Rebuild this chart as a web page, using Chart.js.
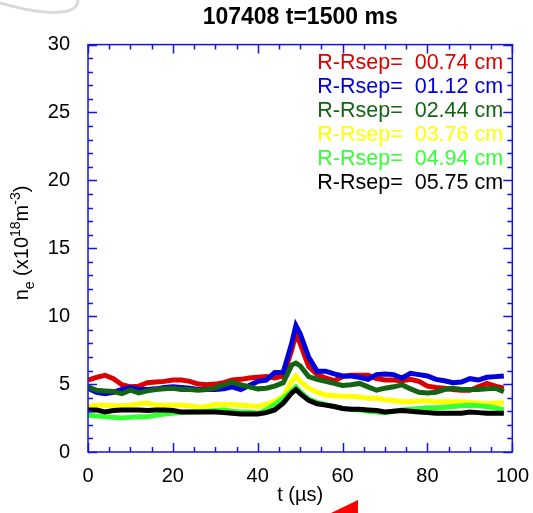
<!DOCTYPE html>
<html>
<head>
<meta charset="utf-8">
<script src="https://cdn.jsdelivr.net/npm/chart.js@4.4.0/dist/chart.umd.min.js"></script>
<style>
  html, body { margin: 0; padding: 0; background: #fff; }
  #wrap { width: 533px; height: 513px; }
</style>
</head>
<body>
<div id="wrap"><canvas id="densityChart" width="533" height="513"></canvas></div>
<script>
// time base in microseconds (finer around the burst at ~49 us)
const times = [0, 2, 4, 6, 8, 10, 12, 14, 16, 18, 20, 22, 24, 26, 28, 30, 32, 34, 36, 38, 40, 42, 44, 46,
  48, 49, 50, 52, 54, 56, 58, 60, 62, 64, 66, 68, 70, 72, 74, 76, 78, 80, 82, 84, 86, 88, 90, 92, 94, 96, 98];

// probe distance from separatrix, cm
const rsep = ['00.74', '01.12', '02.44', '03.76', '04.94', '05.75'];
const colors = ['#dd0000', '#0000dd', '#146414', '#ffff00', '#33ff33', '#000000'];

// n_e in units of 1e18 m^-3
const ne074 = [5.3, 5.5, 5.65, 5.4, 4.95, 4.8, 4.85, 5.1, 5.15, 5.2, 5.3, 5.3, 5.2, 5.0, 4.95, 5.0, 5.1, 5.3, 5.35, 5.45, 5.5, 5.55, 5.45, 5.6,
  7.5, 8.7, 8.0, 6.3, 5.7, 5.45, 5.25, 5.55, 5.65, 5.65, 5.65, 5.4, 5.3, 5.3, 5.25, 5.35, 5.2, 4.85, 4.75, 4.7, 4.6, 4.55, 4.55, 4.8, 5.05, 4.85, 4.7];
const ne112 = [4.7, 4.4, 4.3, 4.4, 4.6, 4.75, 4.6, 4.6, 4.65, 4.75, 4.8, 4.75, 4.7, 4.6, 4.6, 4.6, 4.65, 4.8, 4.6, 4.9, 5.2, 5.3, 5.85, 5.85,
  8.0, 9.3, 8.7, 7.0, 5.95, 5.95, 5.75, 5.6, 5.6, 5.5, 5.35, 5.7, 5.75, 5.7, 5.45, 5.8, 5.7, 5.6, 5.35, 5.25, 5.1, 5.15, 5.4, 5.3, 5.5, 5.55, 5.6];
const ne244 = [4.8, 4.55, 4.5, 4.45, 4.3, 4.55, 4.35, 4.5, 4.6, 4.65, 4.7, 4.6, 4.6, 4.55, 4.6, 4.7, 4.95, 5.15, 4.95, 4.8, 4.65, 4.7, 4.85, 5.1,
  6.4, 6.55, 6.35, 5.55, 5.35, 5.2, 5.05, 4.9, 4.95, 5.05, 4.8, 4.55, 4.7, 4.8, 4.95, 4.65, 4.4, 4.35, 4.4, 4.6, 4.7, 4.6, 4.6, 4.6, 4.65, 4.7, 4.45];
const ne376 = [3.35, 3.45, 3.45, 3.4, 3.4, 3.45, 3.55, 3.6, 3.45, 3.45, 3.45, 3.45, 3.4, 3.3, 3.35, 3.5, 3.5, 3.5, 3.45, 3.4, 3.35, 3.5, 3.75, 4.1,
  5.2, 5.6, 5.2, 4.7, 4.4, 4.2, 4.15, 4.1, 4.1, 4.05, 3.95, 3.95, 3.85, 3.8, 3.7, 3.7, 3.75, 3.75, 3.7, 3.7, 3.7, 3.7, 3.65, 3.6, 3.55, 3.6, 3.6];
const ne494 = [2.7, 2.65, 2.6, 2.55, 2.5, 2.55, 2.6, 2.6, 2.7, 2.8, 2.85, 2.9, 2.95, 2.95, 3.0, 3.05, 3.1, 3.0, 2.95, 2.95, 2.85, 3.1, 3.5, 3.95,
  4.5, 4.8, 4.45, 3.9, 3.65, 3.5, 3.35, 3.2, 3.15, 3.1, 3.0, 2.95, 2.9, 3.0, 3.1, 3.15, 3.2, 3.25, 3.25, 3.3, 3.35, 3.4, 3.45, 3.4, 3.35, 3.25, 3.1];
const ne575 = [3.1, 3.1, 2.95, 3.05, 3.1, 3.1, 3.1, 3.05, 3.1, 3.1, 3.05, 2.95, 2.95, 2.95, 2.95, 2.95, 2.9, 2.85, 2.8, 2.8, 2.8, 2.9, 3.1, 3.6,
  4.35, 4.6, 4.3, 3.8, 3.55, 3.45, 3.35, 3.2, 3.15, 3.15, 3.1, 3.05, 2.95, 3.0, 3.05, 3.0, 2.95, 2.9, 2.85, 2.85, 2.85, 2.85, 2.95, 2.9, 2.85, 2.85, 2.85];

const series = [ne074, ne112, ne244, ne376, ne494, ne575];
const axisBlue = '#1414e0';
const FONT = '"Liberation Sans", Arial, Helvetica, sans-serif';

const datasets = series.map((vals, i) => ({
  label: 'R-Rsep=  ' + rsep[i] + ' cm',
  data: times.map((t, k) => ({ x: t, y: vals[k] })),
  borderColor: colors[i],
  borderWidth: 5,
  pointRadius: 0,
  tension: 0,
  fill: false,
  order: series.length - i   // later traces sit on top
}));

// blue box with inward ticks on all four sides
const frameTicks = {
  id: 'frameTicks',
  afterDraw(chart) {
    const { ctx, chartArea: a, scales: { x, y } } = chart;
    ctx.save();
    ctx.strokeStyle = axisBlue;
    ctx.lineWidth = 1.5;
    ctx.strokeRect(a.left, a.top, a.right - a.left, a.bottom - a.top);
    ctx.beginPath();
    for (let v = 0; v <= 100; v += 5) {
      const px = Math.round(x.getPixelForValue(v)) + 0.5;
      const len = v % 20 === 0 ? 9 : 5;
      ctx.moveTo(px, a.bottom); ctx.lineTo(px, a.bottom - len);
      ctx.moveTo(px, a.top); ctx.lineTo(px, a.top + len);
    }
    for (let v = 0; v <= 30; v += 1) {
      const py = Math.round(y.getPixelForValue(v)) + 0.5;
      const len = v % 5 === 0 ? 9 : 5;
      ctx.moveTo(a.left, py); ctx.lineTo(a.left + len, py);
      ctx.moveTo(a.right, py); ctx.lineTo(a.right - len, py);
    }
    ctx.stroke();
    ctx.restore();
  }
};

// coloured text legend in the upper right of the plot
const textLegend = {
  id: 'textLegend',
  afterDraw(chart) {
    const { ctx, chartArea: a } = chart;
    ctx.save();
    ctx.font = '21.5px ' + FONT;
    ctx.textAlign = 'left';
    ctx.textBaseline = 'middle';
    chart.data.datasets.forEach((ds, i) => {
      ctx.fillStyle = ds.borderColor;
      ctx.fillText(ds.label, a.right - 195, a.top + 18 + i * 24);
    });
    ctx.restore();
  }
};

// y title with subscript / superscripts
const yTitle = {
  id: 'yTitle',
  afterDraw(chart) {
    const { ctx } = chart;
    const parts = [['n', 0, 20], ['e', 6, 14], [' (x10', 0, 20], ['18', -8, 14], ['m', 0, 20], ['-3', -8, 14], [')', 0, 20]];
    ctx.save();
    ctx.fillStyle = '#000';
    ctx.textBaseline = 'alphabetic';
    ctx.textAlign = 'left';
    let w = 0;
    parts.forEach(p => { ctx.font = p[2] + 'px ' + FONT; w += ctx.measureText(p[0]).width; });
    ctx.translate(28, 243);
    ctx.rotate(-Math.PI / 2);
    let cx = -w / 2;
    parts.forEach(p => {
      ctx.font = p[2] + 'px ' + FONT;
      ctx.fillText(p[0], cx, p[1]);
      cx += ctx.measureText(p[0]).width;
    });
    ctx.restore();
  }
};

// stray marks at the page edges
const edgeMarks = {
  id: 'edgeMarks',
  afterDraw(chart) {
    const { ctx } = chart;
    ctx.save();
    ctx.fillStyle = '#ff0000';
    ctx.beginPath();
    ctx.moveTo(331, 513); ctx.lineTo(358, 500); ctx.lineTo(358, 513);
    ctx.closePath();
    ctx.fill();
    ctx.strokeStyle = '#dadada';
    ctx.lineWidth = 3;
    ctx.beginPath();
    ctx.moveTo(0, 3);
    ctx.quadraticCurveTo(45, 16, 68, 11);
    ctx.quadraticCurveTo(78, 8, 78, 0);
    ctx.stroke();
    ctx.restore();
  }
};

new Chart(document.getElementById('densityChart'), {
  type: 'line',
  data: { datasets },
  options: {
    responsive: false,
    animation: false,
    layout: { padding: { top: 0, right: 19, left: 0, bottom: 0 } },
    plugins: {
      legend: { display: false },
      tooltip: { enabled: false },
      title: {
        display: true,
        text: '107408 t=1500 ms',
        color: '#000',
        font: { family: FONT, size: 23, weight: 'bold' },
        padding: { top: 4, bottom: 13 },
        fullSize: false
      }
    },
    scales: {
      x: {
        type: 'linear',
        min: 0,
        max: 100,
        grid: { display: false },
        border: { display: false },
        ticks: { stepSize: 20, color: '#000', font: { family: FONT, size: 20 }, padding: 4, maxRotation: 0 },
        title: { display: true, text: 't (\u00b5s)', color: '#000', font: { family: FONT, size: 20 }, padding: { top: 0, bottom: 6 } },
        afterFit(scale) { scale.height = 61; }
      },
      y: {
        min: 0,
        max: 30,
        grid: { display: false },
        border: { display: false },
        ticks: { stepSize: 5, color: '#000', font: { family: FONT, size: 20 }, padding: 10 },
        afterFit(scale) { scale.width = 88; }
      }
    }
  },
  plugins: [frameTicks, textLegend, yTitle, edgeMarks]
});
</script>
</body>
</html>
